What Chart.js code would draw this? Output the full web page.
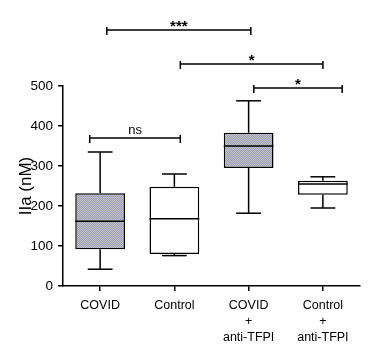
<!DOCTYPE html>
<html>
<head>
<meta charset="utf-8">
<script src="https://cdn.jsdelivr.net/npm/chart.js@4/dist/chart.umd.min.js"></script>
<style>
  html, body { margin: 0; padding: 0; background: #fff; }
  #wrap { width: 371px; height: 358px; position: relative; }
</style>
</head>
<body>
<div id="wrap"><canvas id="boxChart"></canvas></div>
<script>
// categories and box-plot values (nM)
const categories = [['COVID'], ['Control'], ['COVID', '+', 'anti-TFPI'], ['Control', '+', 'anti-TFPI']];
const minVals = [42, 76, 182, 195];
const q1Vals = [92, 80, 295, 228];
const medianVals = [162, 168, 350, 255];
const q3Vals = [232, 248, 383, 263];
const maxVals = [335, 280, 463, 273];
const yTickValues = [0, 100, 200, 300, 400, 500];

// significance brackets (category index from/to, level in nM)
const bracketFrom = [-0.14, 0.09, 1.08, 2.07];
const bracketTo = [1.08, 2.03, 3.0, 3.26];
const bracketLevel = [370, 640, 555, 495];
const bracketLabel = ['ns', '***', '*', '*'];

const fontFam = '"Liberation Sans", Arial, sans-serif';

function makeHatch() {
    const c = document.createElement('canvas');
    c.width = 2; c.height = 2;
    const g = c.getContext('2d');
    g.fillStyle = '#a0a0bc'; g.fillRect(0, 0, 2, 2);
    g.fillStyle = '#c0c0c0'; g.fillRect(0, 0, 1, 1); g.fillRect(1, 1, 1, 1);
    return g.createPattern(c, 'repeat');
}

const ctx = document.getElementById('boxChart').getContext('2d');
const hatch = makeHatch();
const boxFills = [hatch, '#ffffff', hatch, '#ffffff'];

const whiskerPlugin = {
    id: 'whiskers',
    afterDatasetsDraw(chart) {
        const x = chart.scales.x, y = chart.scales.y;
        const g = chart.ctx;
        const meta = chart.getDatasetMeta(0);
        g.save();
        g.strokeStyle = '#000';
        g.lineWidth = 1.5;
        g.lineCap = 'butt';
        meta.data.forEach((bar, i) => {
            const cx = x.getPixelForValue(i);
            const half = bar.width / 2;
            const cap = bar.width * 0.25;
            const line = (x1, y1, x2, y2) => { g.beginPath(); g.moveTo(x1, y1); g.lineTo(x2, y2); g.stroke(); };
            line(cx, y.getPixelForValue(q3Vals[i]), cx, y.getPixelForValue(maxVals[i]));
            line(cx, y.getPixelForValue(q1Vals[i]), cx, y.getPixelForValue(minVals[i]));
            line(cx - cap, y.getPixelForValue(maxVals[i]), cx + cap, y.getPixelForValue(maxVals[i]));
            line(cx - cap, y.getPixelForValue(minVals[i]), cx + cap, y.getPixelForValue(minVals[i]));
            line(cx - half, y.getPixelForValue(medianVals[i]), cx + half, y.getPixelForValue(medianVals[i]));
        });
        g.restore();
    },
    afterDraw(chart) {
        const x = chart.scales.x, y = chart.scales.y;
        const g = chart.ctx;
        g.save();
        g.strokeStyle = '#000';
        g.fillStyle = '#000';
        g.lineWidth = 1.5;
        g.textAlign = 'center';
        bracketLevel.forEach((lvl, i) => {
            const x1 = x.getPixelForValue(bracketFrom[i]);
            const x2 = x.getPixelForValue(bracketTo[i]);
            const py = y.getPixelForValue(lvl);
            g.beginPath();
            g.moveTo(x1, py - 3); g.lineTo(x1, py + 5);
            g.moveTo(x1, py); g.lineTo(x2, py);
            g.moveTo(x2, py - 3); g.lineTo(x2, py + 5);
            g.stroke();
            const isNs = bracketLabel[i] === 'ns';
            g.font = isNs ? '13px ' + fontFam : 'bold 15px ' + fontFam;
            g.textBaseline = 'alphabetic';
            g.fillText(bracketLabel[i], (x1 + x2) / 2, isNs ? py - 4 : py + 1);
        });
        g.restore();
    }
};

new Chart(ctx, {
    type: 'bar',
    data: {
        labels: categories,
        datasets: [{
            data: q1Vals.map((q, i) => [q, q3Vals[i]]),
            backgroundColor: boxFills,
            borderColor: '#000',
            borderWidth: 1.5,
            borderSkipped: false,
            barPercentage: 0.67,
            categoryPercentage: 1
        }]
    },
    options: {
        responsive: true,
        maintainAspectRatio: false,
        animation: false,
        layout: { padding: { top: 86, right: 11, left: 0, bottom: 0 } },
        plugins: { legend: { display: false }, tooltip: { enabled: false } },
        scales: {
            x: {
                offset: true,
                afterFit: s => { s.height = 72; },
                grid: { display: true, drawOnChartArea: false, drawTicks: true, tickLength: 5, offset: false, color: '#000', lineWidth: 1.5 },
                border: { display: true, color: '#000', width: 1.5 },
                ticks: { color: '#000', maxRotation: 0, padding: 6, font: { family: fontFam, size: 12.5, lineHeight: 1.3 } }
            },
            y: {
                min: 0,
                max: 500,
                afterFit: s => { s.width = 63; },
                afterBuildTicks: s => { s.ticks = yTickValues.map(v => ({ value: v })); },
                grid: { display: true, drawOnChartArea: false, drawTicks: true, tickLength: 5, color: '#000', lineWidth: 1.5 },
                border: { display: true, color: '#000', width: 1.5 },
                ticks: { color: '#000', padding: 5, font: { family: fontFam, size: 13.5 } },
                title: { display: true, text: 'IIa (nM)', color: '#000', padding: { top: 16, bottom: 0 }, font: { family: fontFam, size: 17, lineHeight: 1.2 } }
            }
        }
    },
    plugins: [whiskerPlugin]
});
</script>
</body>
</html>
